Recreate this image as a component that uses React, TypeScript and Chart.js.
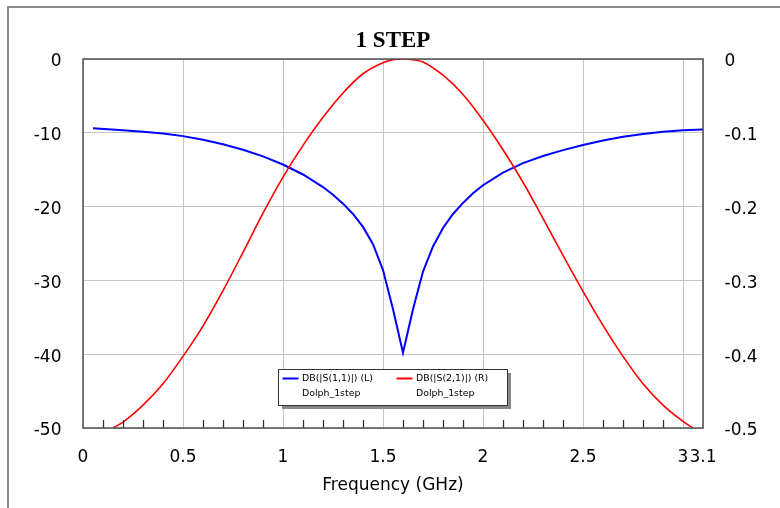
import React, { useEffect, useRef } from 'react';
import { Chart, registerables } from 'chart.js';

Chart.register(...registerables);

// ---- Data ----
const titleText = '1 STEP';
const xAxisTitle = 'Frequency (GHz)';

const freqS11 = [0.05, 0.2, 0.3, 0.4, 0.5, 0.6, 0.7, 0.8, 0.9, 1.0, 1.1, 1.2, 1.25, 1.3, 1.35, 1.4, 1.45, 1.5, 1.55, 1.6, 1.65, 1.7, 1.75, 1.8, 1.85, 1.9, 1.95, 2.0, 2.1, 2.2, 2.3, 2.4, 2.5, 2.6, 2.7, 2.8, 2.9, 3.0, 3.1];
const s11Db = [-9.4, -9.65, -9.85, -10.1, -10.45, -10.95, -11.55, -12.3, -13.2, -14.3, -15.65, -17.35, -18.4, -19.6, -21.0, -22.75, -25.1, -28.6, -33.9, -39.8, -33.9, -28.8, -25.4, -22.9, -21.0, -19.5, -18.2, -17.1, -15.4, -14.1, -13.15, -12.35, -11.65, -11.05, -10.55, -10.15, -9.85, -9.65, -9.55];

const freqS21 = [0.15, 0.2, 0.3, 0.4, 0.5, 0.6, 0.7, 0.8, 0.9, 1.0, 1.1, 1.2, 1.3, 1.4, 1.5, 1.55, 1.6, 1.65, 1.7, 1.8, 1.9, 2.0, 2.1, 2.2, 2.3, 2.4, 2.5, 2.6, 2.7, 2.8, 2.9, 3.0, 3.05];
const s21Db = [-0.5, -0.492, -0.469, -0.44, -0.403, -0.362, -0.314, -0.262, -0.209, -0.16, -0.117, -0.079, -0.046, -0.02, -0.005, -0.001, 0, -0.001, -0.004, -0.022, -0.048, -0.083, -0.123, -0.167, -0.216, -0.266, -0.315, -0.361, -0.403, -0.44, -0.469, -0.491, -0.5];

const xTickValues = [0, 0.5, 1, 1.5, 2, 2.5, 3, 3.1];
const xTickLabels = ['0', '0.5', '1', '1.5', '2', '2.5', '3', '3.1'];
const xMinorTicks = [0.1, 0.2, 0.3, 0.4, 0.6, 0.7, 0.8, 0.9, 1.1, 1.2, 1.3, 1.4, 1.6, 1.7, 1.8, 1.9, 2.1, 2.2, 2.3, 2.4, 2.6, 2.7, 2.8, 2.9];
const yLeftTicks = [-50, -40, -30, -20, -10, 0];
const yLeftLabels = ['-50', '-40', '-30', '-20', '-10', '0'];
const yRightTicks = [-0.5, -0.4, -0.3, -0.2, -0.1, 0];
const yRightLabels = ['-0.5', '-0.4', '-0.3', '-0.2', '-0.1', '0'];

const legendNames = ['DB(|S(1,1)|) (L)', 'DB(|S(2,1)|) (R)'];
const legendSub = ['Dolph_1step', 'Dolph_1step'];

const BLUE = '#0000ff';
const RED = '#ff0000';
const GRID = '#c4c4c4';
const TICK_FONT = { family: '"DejaVu Sans"', size: 17 };

const decorPlugin = {
  id: 'decor',
  afterDatasetsDraw(chart: any) {
    const { ctx, chartArea: a, scales } = chart;
    const xs = scales.x;
    ctx.save();
    // minor ticks on bottom axis
    ctx.strokeStyle = '#333';
    ctx.lineWidth = 1.3;
    for (const v of xMinorTicks) {
      const px = Math.round(xs.getPixelForValue(v)) + 0.5;
      ctx.beginPath();
      ctx.moveTo(px, a.bottom);
      ctx.lineTo(px, a.bottom - 8);
      ctx.stroke();
    }
    // plot border
    ctx.strokeStyle = '#505050';
    ctx.lineWidth = 1.5;
    ctx.strokeRect(a.left, a.top, a.right - a.left, a.bottom - a.top);

    // legend box
    const lx = a.left + 195;
    const ly = a.top + 310;
    const lw = 229;
    const lh = 36;
    ctx.fillStyle = '#888';
    ctx.fillRect(lx + 4, ly + 4, lw, lh);
    ctx.fillStyle = '#fff';
    ctx.fillRect(lx, ly, lw, lh);
    ctx.strokeStyle = '#333';
    ctx.lineWidth = 1;
    ctx.strokeRect(lx + 0.5, ly + 0.5, lw, lh);
    const cols = [0, 114];
    const colors = [BLUE, RED];
    ctx.font = '9.4px "DejaVu Sans"';
    ctx.textAlign = 'left';
    ctx.textBaseline = 'middle';
    for (let i = 0; i < 2; i++) {
      const cx = lx + cols[i];
      ctx.strokeStyle = colors[i];
      ctx.lineWidth = 2;
      ctx.beginPath();
      ctx.moveTo(cx + 4.5, ly + 9.5);
      ctx.lineTo(cx + 20.5, ly + 9.5);
      ctx.stroke();
      ctx.fillStyle = '#000';
      ctx.fillText(legendNames[i], cx + 24, ly + 9.5);
      ctx.fillText(legendSub[i], cx + 24, ly + 24.5);
    }

    // title
    ctx.fillStyle = '#000';
    ctx.textAlign = 'center';
    ctx.textBaseline = 'alphabetic';
    ctx.font = 'bold 23px "Liberation Serif"';
    ctx.fillText(titleText, (a.left + a.right) / 2, 47);
    // x axis title
    ctx.font = '17px "DejaVu Sans"';
    ctx.fillText(xAxisTitle, (a.left + a.right) / 2, 489.5);
    ctx.restore();
  },
};

export default function App() {
  const canvasRef = useRef<HTMLCanvasElement | null>(null);

  useEffect(() => {
    const canvas = canvasRef.current;
    if (!canvas) return;
    const chart = new Chart(canvas, {
      type: 'line',
      data: {
        datasets: [
          {
            label: legendNames[1],
            data: freqS21.map((f, i) => ({ x: f, y: s21Db[i] })),
            borderColor: RED,
            borderWidth: 1.6,
            pointRadius: 0,
            cubicInterpolationMode: 'monotone',
            yAxisID: 'y1',
          },
          {
            label: legendNames[0],
            data: freqS11.map((f, i) => ({ x: f, y: s11Db[i] })),
            borderColor: BLUE,
            borderWidth: 2,
            pointRadius: 0,
            tension: 0,
            yAxisID: 'y',
          },
        ],
      },
      options: {
        responsive: false,
        animation: false,
        layout: { padding: { top: 59, left: 0, right: 0, bottom: 0 } },
        plugins: {
          legend: { display: false },
          title: { display: false },
          tooltip: { enabled: false },
        },
        scales: {
          x: {
            type: 'linear',
            position: 'bottom',
            min: 0,
            max: 3.1,
            afterBuildTicks: (s: any) => {
              s.ticks = xTickValues.map((v) => ({ value: v }));
            },
            afterFit: (s: any) => {
              s.height = 80;
            },
            ticks: {
              autoSkip: false,
              maxRotation: 0,
              minRotation: 0,
              padding: 19,
              color: '#000',
              font: TICK_FONT,
              callback: (v: any) => {
                const i = xTickValues.findIndex((t) => Math.abs(t - v) < 1e-6);
                return i >= 0 ? xTickLabels[i] : '';
              },
            },
            grid: { color: GRID, lineWidth: 1, drawTicks: false },
            border: { display: false },
          },
          y: {
            type: 'linear',
            position: 'left',
            min: -50,
            max: 0,
            afterBuildTicks: (s: any) => {
              s.ticks = yLeftTicks.map((v) => ({ value: v }));
            },
            afterFit: (s: any) => {
              s.width = 83;
            },
            ticks: {
              padding: 21.5,
              labelOffset: 3,
              color: '#000',
              font: TICK_FONT,
              callback: (v: any) => {
                const i = yLeftTicks.findIndex((t) => Math.abs(t - v) < 1e-6);
                return i >= 0 ? yLeftLabels[i] : '';
              },
            },
            grid: { color: GRID, lineWidth: 1, drawTicks: false },
            border: { display: false },
          },
          y1: {
            type: 'linear',
            position: 'right',
            min: -0.5,
            max: 0,
            afterBuildTicks: (s: any) => {
              s.ticks = yRightTicks.map((v) => ({ value: v }));
            },
            afterFit: (s: any) => {
              s.width = 77;
            },
            ticks: {
              padding: 21.5,
              labelOffset: 3,
              color: '#000',
              font: TICK_FONT,
              callback: (v: any) => {
                const i = yRightTicks.findIndex((t) => Math.abs(t - v) < 1e-6);
                return i >= 0 ? yRightLabels[i] : '';
              },
            },
            grid: { drawOnChartArea: false, drawTicks: false },
            border: { display: false },
          },
        },
      } as any,
      plugins: [decorPlugin],
    });
    return () => chart.destroy();
  }, []);

  return (
    <div
      style={{
        position: 'fixed',
        left: 0,
        top: 0,
        width: 780,
        height: 508,
        overflow: 'hidden',
        background: '#fff',
      }}
    >
      <div
        style={{
          position: 'absolute',
          left: 7,
          top: 6,
          width: 800,
          height: 540,
          borderTop: '2px solid #8a8a8a',
          borderLeft: '2px solid #8a8a8a',
        }}
      />
      <canvas
        ref={canvasRef}
        width={780}
        height={508}
        style={{ position: 'absolute', left: 0, top: 0, width: 780, height: 508 }}
      />
    </div>
  );
}
